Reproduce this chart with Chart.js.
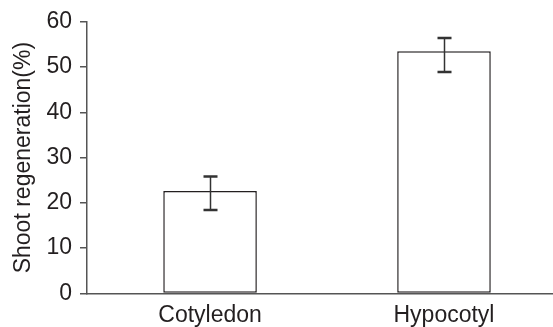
<!DOCTYPE html>
<html>
<head>
<meta charset="utf-8">
<script src="https://cdn.jsdelivr.net/npm/chart.js@4"></script>
<style>
  html, body { margin: 0; padding: 0; background: #fff; overflow: hidden; }
  #wrap { width: 553px; height: 327px; }
</style>
</head>
<body>
<div id="wrap"><canvas id="shootChart" width="553" height="327"></canvas></div>
<script>
const categories = ["Cotyledon", "Hypocotyl"];
const regeneration = [22.6, 53.5];
const errUpper = [25.8, 56.4];
const errLower = [18.4, 48.9];
const yTicks = [0, 10, 20, 30, 40, 50, 60];

const textColor = "#231f20";
const fontSpec = { family: "'Liberation Sans', Arial, sans-serif", size: 23 };

// error bars drawn on top of the bars
const errorBars = {
  id: "errorBars",
  afterDatasetsDraw(chart) {
    const ctx = chart.ctx;
    const xs = chart.scales.x;
    const ys = chart.scales.y;
    ctx.save();
    ctx.strokeStyle = "#333";
    categories.forEach(function (c, i) {
      const x = Math.round(xs.getPixelForValue(i)) + 0.5;
      const yTop = ys.getPixelForValue(errUpper[i]);
      const yBot = ys.getPixelForValue(errLower[i]);
      ctx.lineWidth = 1.5;
      ctx.beginPath();
      ctx.moveTo(x, yTop);
      ctx.lineTo(x, yBot);
      ctx.stroke();
      ctx.lineWidth = 2.5;
      ctx.beginPath();
      ctx.moveTo(x - 7, yTop);
      ctx.lineTo(x + 7, yTop);
      ctx.moveTo(x - 7, yBot);
      ctx.lineTo(x + 7, yBot);
      ctx.stroke();
    });
    ctx.restore();
  },
};

const ctx = document.getElementById("shootChart");
const shootChart = new Chart(ctx, {
  type: "bar",
  data: {
    datasets: [
      {
        label: "Shoot regeneration",
        data: categories.map(function (c, i) {
          return { x: i, y: regeneration[i] };
        }),
        backgroundColor: "#ffffff",
        borderColor: "#231f20",
        borderWidth: 1.5,
        borderSkipped: false,
        categoryPercentage: 1,
        barPercentage: 0.4,
      },
    ],
  },
  options: {
    responsive: false,
    animation: false,
    layout: { padding: { top: 20, right: 0, left: 0, bottom: -10 } },
    scales: {
      x: {
        type: "linear",
        offset: false,
        min: -0.526,
        max: 1.466,
        afterBuildTicks: function (scale) {
          scale.ticks = categories.map(function (c, i) {
            return { value: i };
          });
        },
        ticks: {
          color: textColor,
          font: fontSpec,
          padding: 8,
          maxRotation: 0,
          autoSkip: false,
          callback: function (value) {
            return categories[value];
          },
        },
        grid: { display: false, drawTicks: false, offset: false },
        border: { display: true, color: "#555", width: 1.5 },
      },
      y: {
        min: 0,
        max: 60,
        afterBuildTicks: function (scale) {
          scale.ticks = yTicks.map(function (v) {
            return { value: v };
          });
        },
        afterFit: function (scale) {
          scale.width = 87;
        },
        ticks: {
          color: textColor,
          font: fontSpec,
          padding: 8,
        },
        grid: {
          drawOnChartArea: false,
          drawTicks: true,
          tickLength: 7,
          color: "#555",
          lineWidth: 1.5,
        },
        border: { display: true, color: "#555", width: 1.5 },
        title: {
          display: true,
          text: "Shoot regeneration(%)",
          color: textColor,
          font: fontSpec,
          padding: { top: 10, bottom: 0 },
        },
      },
    },
    plugins: {
      legend: { display: false },
      tooltip: { enabled: false },
    },
  },
  plugins: [errorBars],
});
</script>
</body>
</html>
